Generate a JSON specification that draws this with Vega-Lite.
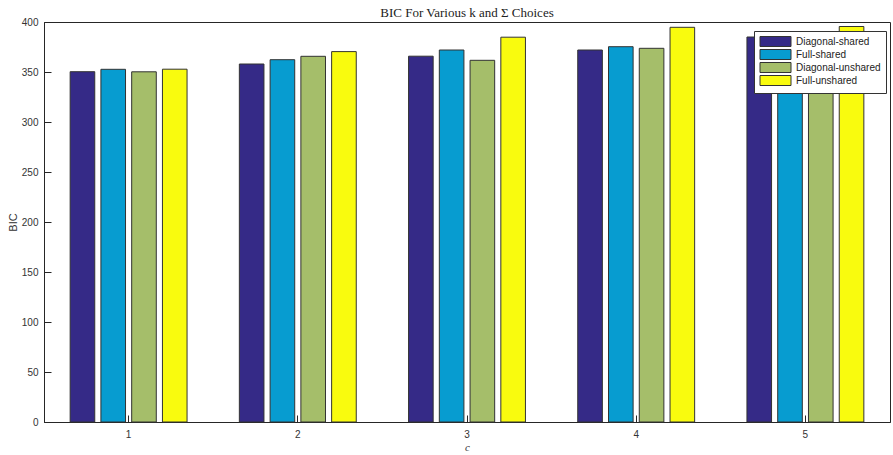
{
  "$schema": "https://vega.github.io/schema/vega-lite/v6.json",
  "autosize": {"type": "none"},
  "padding": {"left": 44, "top": 22, "right": 3, "bottom": 33},
  "width": 846,
  "height": 400,
  "background": "white",
  "title": {
    "text": "BIC For Various k and Σ Choices",
    "font": "Liberation Serif",
    "fontSize": 13,
    "fontWeight": "normal",
    "color": "#222222",
    "offset": -3
  },
  "data": {
    "values": [
      {"c": 1, "model": "Diagonal-shared", "bic": 350.3},
      {"c": 1, "model": "Full-shared", "bic": 352.7},
      {"c": 1, "model": "Diagonal-unshared", "bic": 350.2},
      {"c": 1, "model": "Full-unshared", "bic": 352.8},
      {"c": 2, "model": "Diagonal-shared", "bic": 358.0},
      {"c": 2, "model": "Full-shared", "bic": 362.3},
      {"c": 2, "model": "Diagonal-unshared", "bic": 365.7},
      {"c": 2, "model": "Full-unshared", "bic": 370.4},
      {"c": 3, "model": "Diagonal-shared", "bic": 365.8},
      {"c": 3, "model": "Full-shared", "bic": 372.0},
      {"c": 3, "model": "Diagonal-unshared", "bic": 361.7},
      {"c": 3, "model": "Full-unshared", "bic": 384.8},
      {"c": 4, "model": "Diagonal-shared", "bic": 372.0},
      {"c": 4, "model": "Full-shared", "bic": 375.3},
      {"c": 4, "model": "Diagonal-unshared", "bic": 373.7},
      {"c": 4, "model": "Full-unshared", "bic": 394.7},
      {"c": 5, "model": "Diagonal-shared", "bic": 385.0},
      {"c": 5, "model": "Full-shared", "bic": 387.0},
      {"c": 5, "model": "Diagonal-unshared", "bic": 380.0},
      {"c": 5, "model": "Full-unshared", "bic": 395.5}
    ]
  },
  "config": {
    "view": {"stroke": "#262626", "strokeWidth": 1},
    "axis": {
      "domainColor": "#262626",
      "tickColor": "#262626",
      "labelColor": "#333333",
      "titleColor": "#333333",
      "labelFont": "Liberation Sans",
      "labelFontSize": 10,
      "grid": false
    }
  },
  "mark": {"type": "bar", "stroke": "#333333", "strokeWidth": 1},
  "encoding": {
    "x": {
      "field": "c",
      "type": "ordinal",
      "scale": {"paddingInner": 0, "paddingOuter": 0},
      "axis": {
        "title": "c",
        "titleFont": "Liberation Serif",
        "titleFontStyle": "italic",
        "titleFontWeight": "normal",
        "titleFontSize": 11,
        "titlePadding": 2,
        "labelAngle": 0,
        "tickSize": -7,
        "labelPadding": 14
      }
    },
    "xOffset": {
      "field": "model",
      "sort": ["Diagonal-shared", "Full-shared", "Diagonal-unshared", "Full-unshared"],
      "scale": {"paddingInner": 0.2, "paddingOuter": 0.85}
    },
    "y": {
      "field": "bic",
      "type": "quantitative",
      "scale": {"domain": [0, 400], "nice": false},
      "axis": {
        "title": "BIC",
        "titleFont": "Liberation Sans",
        "titleFontWeight": "normal",
        "titleFontSize": 11,
        "titlePadding": 3,
        "values": [0, 50, 100, 150, 200, 250, 300, 350, 400],
        "tickSize": -7,
        "labelPadding": 13
      }
    },
    "color": {
      "field": "model",
      "type": "nominal",
      "sort": ["Diagonal-shared", "Full-shared", "Diagonal-unshared", "Full-unshared"],
      "scale": {
        "domain": ["Diagonal-shared", "Full-shared", "Diagonal-unshared", "Full-unshared"],
        "range": ["#352a87", "#079cd0", "#a5be6a", "#f9fb0e"]
      },
      "legend": {
        "title": null,
        "orient": "none",
        "legendX": 710,
        "legendY": 9,
        "fillColor": "white",
        "strokeColor": "#333333",
        "padding": 5,
        "symbolType": "M-3.1,-1H3.1V1H-3.1Z",
        "symbolSize": 100,
        "symbolOffset": 11,
        "symbolStrokeColor": "#333333",
        "symbolStrokeWidth": 1,
        "labelFont": "Liberation Sans",
        "labelFontSize": 10,
        "labelColor": "#222222",
        "rowPadding": -2,
        "labelOffset": 15
      }
    }
  }
}
